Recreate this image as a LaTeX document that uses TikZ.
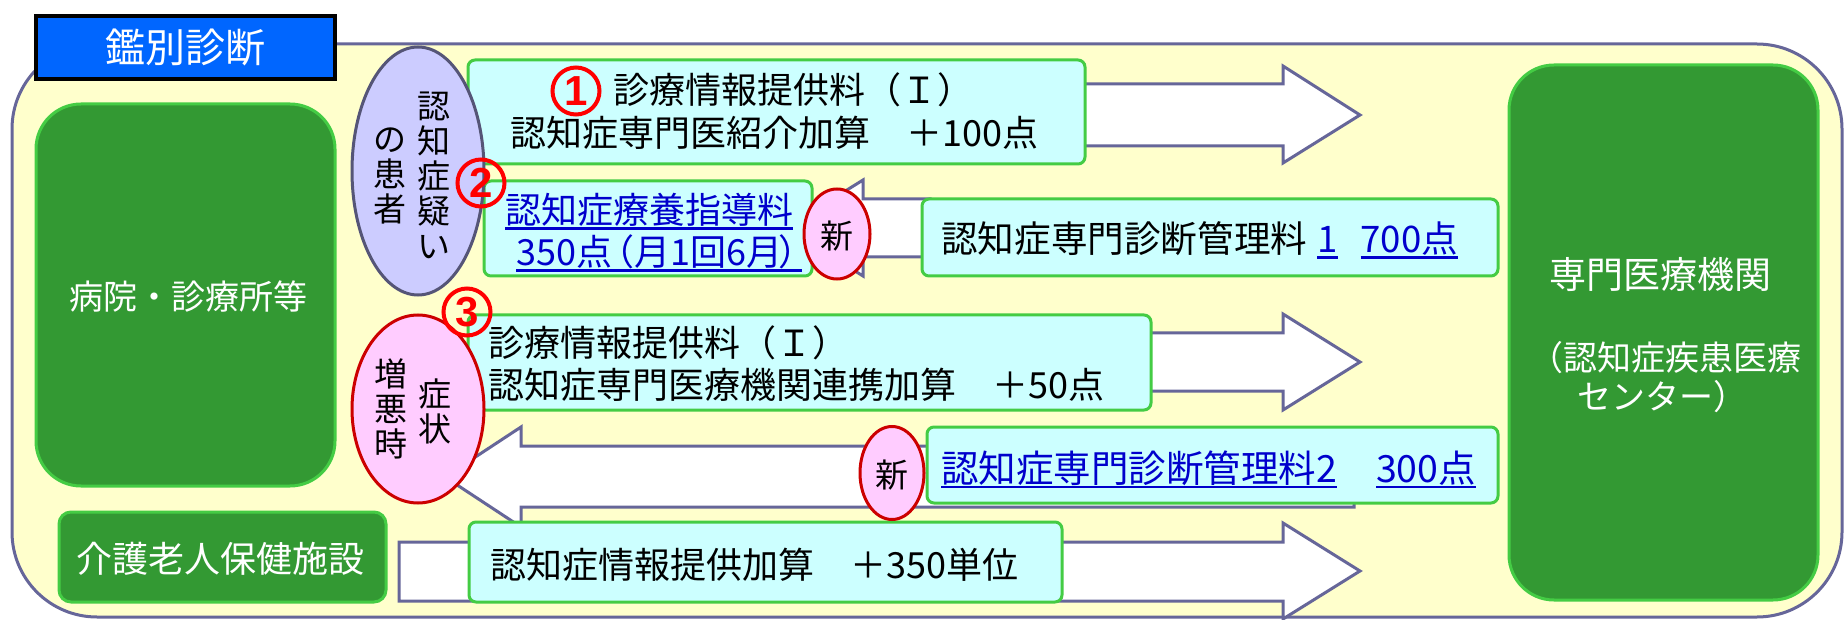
\documentclass[tikz,border=0pt]{standalone}
\usepackage{fontspec}
\newfontfamily\jp{Noto Sans CJK JP}
\newfontfamily\lat{Liberation Sans}
\usetikzlibrary{shapes.geometric}
\definecolor{frameC}{HTML}{666699}
\definecolor{frameF}{HTML}{FFFFCC}
\definecolor{titleF}{HTML}{0066FF}
\definecolor{greenF}{HTML}{339933}
\definecolor{greenB}{HTML}{44CC44}
\definecolor{cyanF}{HTML}{CCFFFF}
\definecolor{lavF}{HTML}{CCCCFF}
\definecolor{lavB}{HTML}{555577}
\definecolor{pinkF}{HTML}{FFCCFF}
\definecolor{redB}{HTML}{CC0000}
\definecolor{linkC}{HTML}{0000CC}
\definecolor{numC}{HTML}{FF0000}
\newcommand\myul[1]{\setbox0=\hbox{#1}\rlap{\smash{\rule[-6pt]{\wd0}{2.5pt}}}\box0}
\begin{document}
\begin{tikzpicture}[x=1pt,y=-1pt,
  frame/.style={draw=frameC, line width=3pt, fill=frameF, rounded corners=85pt},
  gbox/.style={draw=greenB, line width=3pt, fill=greenF},
  cbox/.style={draw=greenB, line width=3pt, fill=cyanF, rounded corners=7pt},
  barrow/.style={draw=frameC, line width=3pt, fill=white, line join=miter},
  t36/.style={font={\jp\fontsize{36}{40}\selectfont}, inner sep=0pt},
  wt/.style={text=white},
  lnk/.style={text=linkC},
  sinell/.style={ellipse, draw=redB, line width=3pt, fill=pinkF, inner sep=0pt},
  sintxt/.style={inner sep=0pt, font={\jp\fontsize{33}{36}\selectfont}},
  num/.style={circle, draw=numC, line width=4pt, minimum size=47pt, inner sep=0pt, text=numC, font={\lat\bfseries\fontsize{42}{42}\selectfont}},
  vcol/.style={align=center, inner sep=0pt, font={\jp\fontsize{33}{35}\selectfont}}]
\useasboundingbox (0,0) rectangle (1845,620);
% frame
\node[frame, minimum width=1830pt, minimum height=573pt] (frm) at (927,330.5) {};
\node[draw=black, line width=3.5pt, fill=titleF, minimum width=299pt, minimum height=63pt, text=white, font={\jp\fontsize{40}{44}\selectfont}] (ttl) at (185.5,47.5) {鑑別診断};
% block arrows
\draw[barrow] (1000,84) -- (1283,84) -- (1283,66) -- (1360,115) -- (1283,163) -- (1283,146) -- (1000,146) -- cycle;
\draw[barrow] (1000,333) -- (1283,333) -- (1283,314) -- (1360,362) -- (1283,410) -- (1283,391) -- (1000,391) -- cycle;
\draw[barrow] (399,542) -- (1283,542) -- (1283,523) -- (1360,571) -- (1283,619) -- (1283,601) -- (399,601) -- cycle;
\draw[barrow] (930,199) -- (863,199) -- (863,180) -- (786,228) -- (863,276) -- (863,257) -- (930,257) -- cycle;
\draw[barrow] (1354,446) -- (521,446) -- (521,427) -- (445,477) -- (521,527) -- (521,507) -- (1354,507) -- cycle;
% green boxes
\node[gbox, rounded corners=45pt, minimum width=299pt, minimum height=382pt] (hosp) at (185.5,295) {};
\node[t36, wt, font={\jp\fontsize{34}{38}\selectfont}] (hospt) at (188,297) {病院・診療所等};
\node[gbox, rounded corners=12pt, minimum width=327pt, minimum height=90pt] (kaigo) at (222.5,557) {};
\node[t36, wt] (kaigot) at (220,559) {介護老人保健施設};
\node[gbox, rounded corners=45pt, minimum width=309pt, minimum height=535pt] (spec) at (1663.5,332.5) {};
\node[t36, wt, font={\jp\fontsize{37}{40}\selectfont}] (spect1) at (1660,274) {専門医療機関};
\node[t36, wt, font={\jp\fontsize{34}{38}\selectfont}] (spect2) at (1665,358) {（認知症疾患医療};
\node[t36, wt, font={\jp\fontsize{34}{38}\selectfont}] (spect3) at (1662,397) {センター）};
% cyan boxes
\node[cbox, minimum width=617pt, minimum height=104pt] (b1) at (776.5,112) {};
\node[cbox, minimum width=328pt, minimum height=95pt] (b2) at (648,228.5) {};
\node[cbox, minimum width=576pt, minimum height=77pt] (b3) at (1210,237.5) {};
\node[cbox, minimum width=683pt, minimum height=95pt] (b4) at (809.5,362.5) {};
\node[cbox, minimum width=571pt, minimum height=76pt] (b5) at (1212.5,465) {};
\node[cbox, minimum width=593pt, minimum height=80pt] (b6) at (765.5,562) {};
% texts in cyan boxes
\node[t36, anchor=west] (b1r1) at (613,90) {診療情報提供料（Ｉ）};
\node[t36, anchor=west] (b1r2) at (510,133) {認知症専門医紹介加算　＋100点};
\node[t36, lnk, anchor=west] (b2r1) at (505,210) {\myul{認知症療養指導料}};
\node[t36, lnk, anchor=west] (b2r2) at (516,252) {\myul{350点\kern-14pt（月1回6月\kern-4pt）\kern-12pt}};
\node[t36, anchor=west, font={\jp\fontsize{36.6}{40}\selectfont}] (b3t) at (941,239) {認知症専門診断管理料\hspace{10pt}\textcolor{linkC}{\myul{1}\hspace{23pt}\myul{700点}}};
\node[t36, lnk, anchor=west, font={\jp\fontsize{37.5}{40}\selectfont}] (b5t) at (941,468) {\myul{認知症専門診断管理料2}\hspace{39pt}\myul{300点}};
\node[t36, anchor=west] (b4r1) at (488,343) {診療情報提供料（Ｉ）};
\node[t36, anchor=west] (b4r2) at (488,385) {認知症専門医療機関連携加算　＋50点};
\node[t36, anchor=west] (b6t) at (490,565) {認知症情報提供加算　＋350単位};
% patient ellipses
\node[ellipse, draw=lavB, line width=3pt, fill=lavF, minimum width=132pt, minimum height=248pt, inner sep=0pt] (e1) at (418,171) {};
\node[vcol] (e1a) at (434,175) {認\\知\\症\\疑\\い};
\node[vcol] (e1b) at (390,176) {の\\患\\者};
\node[sinell, minimum width=132pt, minimum height=188pt] (e2) at (418,409) {};
\node[vcol] (e2a) at (435,411) {症\\状};
\node[vcol] (e2b) at (391,409) {増\\悪\\時};
% new marks
\node[sinell, minimum width=66pt, minimum height=90pt] (n1) at (837,234) {};
\node[sintxt] (n1t) at (837,236) {新};
\node[sinell, minimum width=64pt, minimum height=93pt] (n2) at (892,473) {};
\node[sintxt] (n2t) at (892,475) {新};
% circled numbers
\node[num] (c1) at (576,91) {1};
\node[num] (c2) at (481,183) {2};
\node[num] (c3) at (467,312) {3};
\end{tikzpicture}
\end{document}
